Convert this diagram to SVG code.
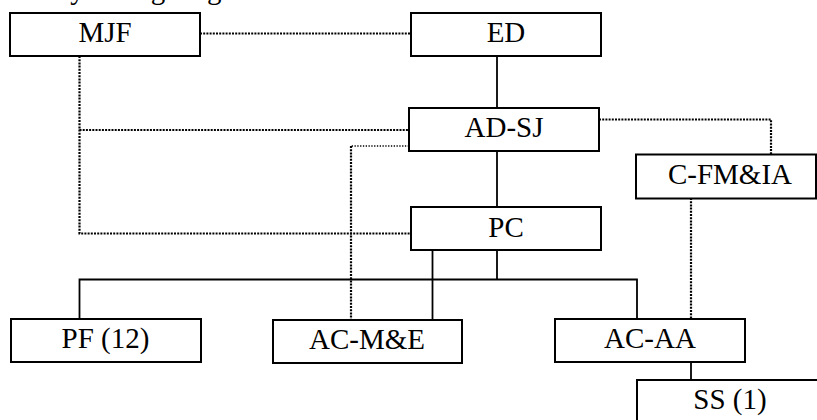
<svg xmlns="http://www.w3.org/2000/svg" width="817" height="420" viewBox="0 0 817 420">
<style>
.box{fill:#fff;stroke:#000;stroke-width:2}
.lbl{font-family:"Liberation Serif","Times New Roman",serif;font-size:29px;fill:#000;text-anchor:middle}
.solid{fill:none;stroke:#000;stroke-width:1.8}
.dot{fill:none;stroke:#000;stroke-width:2.2;stroke-dasharray:2 1.2}
.dotthin{fill:none;stroke:#000;stroke-width:1.3;stroke-dasharray:1.3 1.5}
</style>
<rect width="817" height="420" fill="#fff"/>
<text class="lbl" style="text-anchor:start" y="-1.5"><tspan x="-28">Summary</tspan><tspan x="127">organogram</tspan></text>
<g id="connectors">
  <path class="dot" d="M200 33.5H411"/>
  <path class="solid" d="M497 56V108"/>
  <path class="solid" d="M497 151V207"/>
  <path class="dot" d="M79.5 56V233.5H411"/>
  <path class="dot" d="M79.5 130H409"/>
  <path class="dotthin" d="M409 146H351"/>
  <path class="dot" d="M351 146V320"/>
  <path class="dot" d="M599 119.5H771V154"/>
  <path class="dot" d="M691 198V319"/>
  <path class="solid" d="M79.5 319V279.5H637V319"/>
  <path class="solid" d="M432.5 250V320"/>
  <path class="solid" d="M497 250V279.5"/>
  <path class="solid" d="M691 362V380"/>
</g>
<g id="MJF"><rect class="box" x="10" y="13" width="190" height="43"/><text class="lbl" x="105" y="42">MJF</text></g>
<g id="ED"><rect class="box" x="411" y="13" width="190" height="43"/><text class="lbl" x="506" y="42">ED</text></g>
<g id="AD-SJ"><rect class="box" x="409" y="108" width="190" height="43"/><text class="lbl" x="504" y="137">AD-SJ</text></g>
<g id="C-FM_IA"><rect class="box" x="636" y="154.5" width="180" height="44"/><text class="lbl" x="730" y="184">C-FM&amp;IA</text></g>
<g id="PC"><rect class="box" x="411" y="207" width="190" height="43"/><text class="lbl" x="506" y="236.5">PC</text></g>
<g id="PF"><rect class="box" x="11" y="319" width="190" height="43"/><text class="lbl" x="105.5" y="347.5">PF (12)</text></g>
<g id="AC-ME"><rect class="box" x="273" y="320" width="189" height="43"/><text class="lbl" x="367" y="348.5">AC-M&amp;E</text></g>
<g id="AC-AA"><rect class="box" x="555" y="319" width="190" height="43"/><text class="lbl" x="650" y="347.5">AC-AA</text></g>
<g id="SS"><rect class="box" x="637" y="380" width="190" height="50"/><text class="lbl" x="730" y="409">SS (1)</text></g>
</svg>
